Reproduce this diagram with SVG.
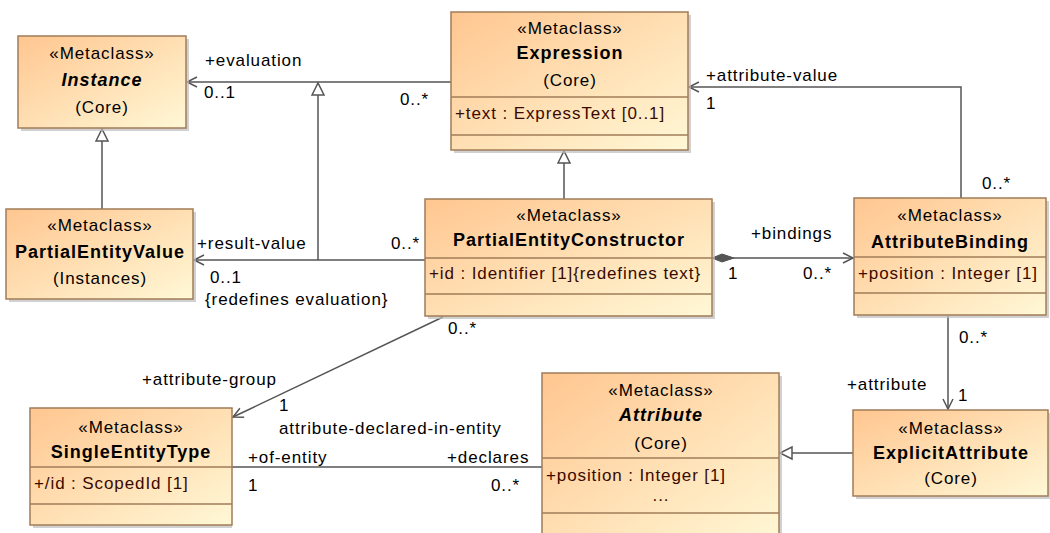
<svg xmlns="http://www.w3.org/2000/svg" width="1050" height="533" viewBox="0 0 1050 533">
<defs>
<linearGradient id="g" x1="0" y1="0" x2="1" y2="1">
<stop offset="0" stop-color="#FFC690"/>
<stop offset="1" stop-color="#FFF8D6"/>
</linearGradient>
<marker id="arr" markerUnits="userSpaceOnUse" markerWidth="14" markerHeight="14" refX="10" refY="5" orient="auto" overflow="visible">
<path d="M0,0 L10,5 L0,10" fill="none" stroke="#555" stroke-width="1.5"/>
</marker>
<marker id="tri" markerUnits="userSpaceOnUse" markerWidth="16" markerHeight="16" refX="12" refY="6" orient="auto" overflow="visible">
<path d="M0,0 L12,6 L0,12 Z" fill="#fff" stroke="#555" stroke-width="1.5"/>
</marker>
<marker id="dia" markerUnits="userSpaceOnUse" markerWidth="26" markerHeight="10" refX="0" refY="4" orient="auto" overflow="visible">
<path d="M0,4 L10,0 L22,4 L10,8 Z" fill="#555" stroke="#555" stroke-width="1"/>
</marker>
</defs>
<style>
.sh{fill:#bdbdbd;opacity:0.7}
.bx{fill:url(#g);stroke:#A07C58;stroke-width:1.5}
.dv{stroke:#A07C58;stroke-width:1.5}
.t{font-family:"Liberation Sans",Arial,sans-serif;font-size:17px;letter-spacing:0.9px;fill:#000}
.c{text-anchor:middle}
.b{font-weight:bold;font-size:18px;letter-spacing:1px}
.i{font-style:italic}
.at{fill:#3a0a00}
.ln{fill:none;stroke:#555;stroke-width:1.5}
</style>
<rect width="1050" height="533" fill="#fff"/>
<g id="connectors">
<path class="ln" d="M451,82 L187,82" marker-end="url(#arr)"/>
<path class="ln" d="M318,260 L318,83" marker-end="url(#tri)"/>
<path class="ln" d="M425,260 L194,260" marker-end="url(#arr)"/>
<path class="ln" d="M102,209 L102,129" marker-end="url(#tri)"/>
<path class="ln" d="M564,199 L564,151" marker-end="url(#tri)"/>
<path class="ln" d="M961,198 L961,87 L689,87" marker-end="url(#arr)"/>
<path class="ln" d="M712,258 L853,258" marker-start="url(#dia)" marker-end="url(#arr)"/>
<path class="ln" d="M948,316 L948,409" marker-end="url(#arr)"/>
<path class="ln" d="M443,317 L233,417" marker-end="url(#arr)"/>
<path class="ln" d="M232,467 L542,467"/>
<path class="ln" d="M853,453 L780,453" marker-end="url(#tri)"/>
<text class="t" x="205" y="66">+evaluation</text>
<text class="t" x="204" y="98">0..1</text>
<text class="t" x="400" y="105">0..*</text>
<text class="t" x="706" y="81">+attribute-value</text>
<text class="t" x="706" y="109">1</text>
<text class="t" x="982" y="189">0..*</text>
<text class="t" x="197" y="249">+result-value</text>
<text class="t" x="391" y="249">0..*</text>
<text class="t" x="210" y="283">0..1</text>
<text class="t" x="205" y="305">{redefines evaluation}</text>
<text class="t" x="751" y="239">+bindings</text>
<text class="t" x="728" y="279">1</text>
<text class="t" x="803" y="279">0..*</text>
<text class="t" x="959" y="343">0..*</text>
<text class="t" x="847" y="390">+attribute</text>
<text class="t" x="958" y="401">1</text>
<text class="t" x="448" y="334">0..*</text>
<text class="t" x="142" y="385">+attribute-group</text>
<text class="t" x="279" y="411">1</text>
<text class="t" x="279" y="434">attribute-declared-in-entity</text>
<text class="t" x="248" y="463">+of-entity</text>
<text class="t" x="447" y="463">+declares</text>
<text class="t" x="248" y="491">1</text>
<text class="t" x="491" y="491">0..*</text>
</g>
<g id="Instance">
<rect class="sh" x="21" y="39" width="168" height="92"/>
<rect class="bx" x="18" y="36" width="168" height="92"/>
<text class="t c" x="102" y="59">«Metaclass»</text>
<text class="t c b i" x="102" y="86">Instance</text>
<text class="t c" x="102" y="113">(Core)</text>
</g>
<g id="Expression">
<rect class="sh" x="454" y="15" width="237" height="138"/>
<rect class="bx" x="451" y="12" width="237" height="138"/>
<line class="dv" x1="451" y1="97" x2="688" y2="97"/>
<line class="dv" x1="451" y1="135" x2="688" y2="135"/>
<text class="t c" x="570" y="34">«Metaclass»</text>
<text class="t c b" x="570" y="59">Expression</text>
<text class="t c" x="570" y="86">(Core)</text>
<text class="t at" x="455" y="119">+text : ExpressText [0..1]</text>
</g>
<g id="PartialEntityValue">
<rect class="sh" x="9" y="212" width="187" height="90"/>
<rect class="bx" x="6" y="209" width="187" height="90"/>
<text class="t c" x="100" y="231">«Metaclass»</text>
<text class="t c b" x="100" y="258">PartialEntityValue</text>
<text class="t c" x="100" y="284">(Instances)</text>
</g>
<g id="PartialEntityConstructor">
<rect class="sh" x="428" y="202" width="287" height="117"/>
<rect class="bx" x="425" y="199" width="287" height="117"/>
<line class="dv" x1="425" y1="258" x2="712" y2="258"/>
<line class="dv" x1="425" y1="294" x2="712" y2="294"/>
<text class="t c" x="569" y="221">«Metaclass»</text>
<text class="t c b" x="569" y="246">PartialEntityConstructor</text>
<text class="t at" x="429" y="279">+id : Identifier [1]{redefines text}</text>
</g>
<g id="AttributeBinding">
<rect class="sh" x="857" y="201" width="192" height="117"/>
<rect class="bx" x="854" y="198" width="192" height="117"/>
<line class="dv" x1="854" y1="257" x2="1046" y2="257"/>
<line class="dv" x1="854" y1="293" x2="1046" y2="293"/>
<text class="t c" x="950" y="221">«Metaclass»</text>
<text class="t c b" x="950" y="248">AttributeBinding</text>
<text class="t at" x="858" y="279">+position : Integer [1]</text>
</g>
<g id="ExplicitAttribute">
<rect class="sh" x="856" y="413" width="195" height="86"/>
<rect class="bx" x="853" y="410" width="195" height="86"/>
<text class="t c" x="951" y="434">«Metaclass»</text>
<text class="t c b" x="951" y="459">ExplicitAttribute</text>
<text class="t c" x="951" y="484">(Core)</text>
</g>
<g id="Attribute">
<rect class="sh" x="545" y="376" width="237" height="170"/>
<rect class="bx" x="542" y="373" width="237" height="170"/>
<line class="dv" x1="542" y1="458" x2="779" y2="458"/>
<line class="dv" x1="542" y1="513" x2="779" y2="513"/>
<text class="t c" x="661" y="396">«Metaclass»</text>
<text class="t c b i" x="661" y="421">Attribute</text>
<text class="t c" x="661" y="449">(Core)</text>
<text class="t at" x="546" y="481">+position : Integer [1]</text>
<text class="t c at" x="661" y="501">...</text>
</g>
<g id="SingleEntityType">
<rect class="sh" x="33" y="411" width="199" height="117"/>
<rect class="bx" x="30" y="408" width="202" height="117"/>
<line class="dv" x1="30" y1="467" x2="232" y2="467"/>
<line class="dv" x1="30" y1="504" x2="232" y2="504"/>
<text class="t c" x="131" y="433">«Metaclass»</text>
<text class="t c b" x="131" y="458">SingleEntityType</text>
<text class="t at" x="34" y="489">+/id : ScopedId [1]</text>
</g>
</svg>
